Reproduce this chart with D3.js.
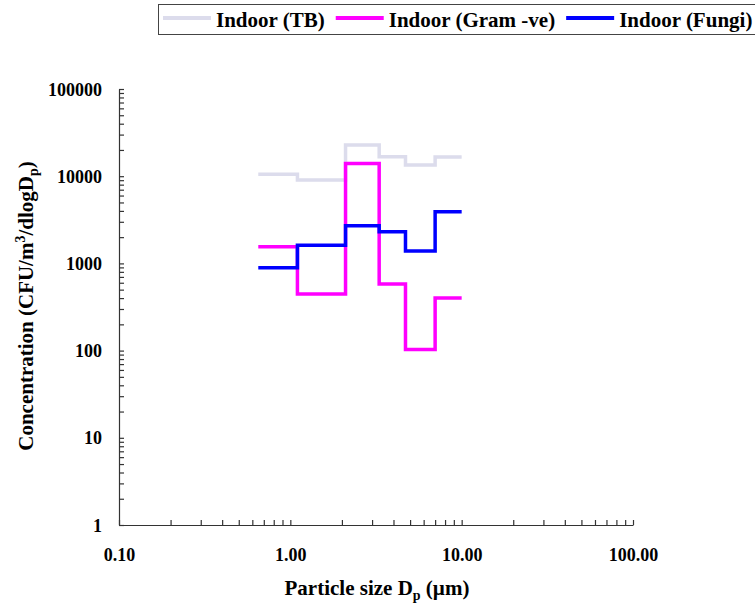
<!DOCTYPE html>
<html lang="en">
<head>
    <meta charset="UTF-8">
    <title>Particle size distribution</title>
    <script src="https://d3js.org/d3.v7.min.js"></script>
    <style>
        body {
            margin: 0;
            padding: 0;
            background: white;
        }
        svg {
            display: block;
        }
        svg text {
            font-family: "Liberation Serif", "Times New Roman", Times, "DejaVu Serif", serif;
            font-weight: bold;
        }
    </style>
</head>
<body>
    <svg id="chart" width="755" height="604"></svg>

    <script>
        // Andersen stage cut sizes (µm) - bin edges
        let binEdges = [0.65, 1.1, 2.1, 3.3, 4.7, 7.0, 10];

        let tbValues = [10500, 9050, 22800, 16700, 13400, 16600];
        let gramValues = [1550, 446, 14000, 580, 103, 400];
        let fungiValues = [890, 1620, 2710, 2310, 1390, 3920];

        let seriesNames = ["Indoor (TB)", "Indoor (Gram -ve)", "Indoor (Fungi)"];
        let seriesColors = ["#dcdcec", "#ff00ff", "#0000ff"];

        let xTickLabels = ["0.10", "1.00", "10.00", "100.00"];
        let yTickLabels = ["1", "10", "100", "1000", "10000", "100000"];

        let svg = d3.select("#chart");
        let axisColor = "#333";

        let x = d3.scaleLog().domain([0.1, 100]).range([119, 633]);
        let y = d3.scaleLog().domain([1, 100000]).range([525, 89]);

        // every tick 1..9 in each decade
        function logTicks(lo, hi) {
            let t = [];
            for (let p = Math.log10(lo); p < Math.log10(hi); p++) {
                for (let k = 1; k < 10; k++) t.push(k * Math.pow(10, p));
            }
            t.push(hi);
            return t;
        }
        function isMajor(v) {
            let l = Math.log10(v);
            return Math.abs(l - Math.round(l)) < 1e-9;
        }

        let xAxis = d3.axisBottom(x)
            .tickValues(logTicks(0.1, 100))
            .tickSizeInner(-5)
            .tickSizeOuter(0)
            .tickPadding(23)
            .tickFormat(v => isMajor(v) ? xTickLabels[Math.round(Math.log10(v)) + 1] : "");

        let yAxis = d3.axisLeft(y)
            .tickValues(logTicks(1, 100000))
            .tickSizeInner(-5)
            .tickSizeOuter(0)
            .tickPadding(17)
            .tickFormat(v => isMajor(v) ? yTickLabels[Math.round(Math.log10(v))] : "");

        let gx = svg.append("g")
            .attr("transform", "translate(0,525)")
            .call(xAxis);
        let gy = svg.append("g")
            .attr("transform", "translate(119,0)")
            .call(yAxis);

        [gx, gy].forEach(g => {
            g.attr("font-family", null).attr("font-size", null);
            g.selectAll("path, line").attr("stroke", axisColor).attr("stroke-width", 1.2);
            g.selectAll("text").attr("fill", "black").style("font-size", "18px");
        });
        gy.selectAll("text").attr("dy", "0.34em");

        // step lines
        function stepPoints(values) {
            return binEdges.map((e, i) => [e, values[Math.min(i, values.length - 1)]]);
        }
        let line = d3.line()
            .x(d => x(d[0]))
            .y(d => y(d[1]))
            .curve(d3.curveStepAfter);

        [tbValues, gramValues, fungiValues].forEach((vals, i) => {
            svg.append("path")
                .attr("d", line(stepPoints(vals)))
                .attr("fill", "none")
                .attr("stroke", seriesColors[i])
                .attr("stroke-width", 3.5);
        });

        // axis titles
        let xTitle = svg.append("text")
            .attr("x", 377)
            .attr("y", 595)
            .attr("text-anchor", "middle")
            .style("font-size", "21px");
        xTitle.append("tspan").text("Particle size D");
        xTitle.append("tspan").attr("dy", 5).style("font-size", "14px").text("p");
        xTitle.append("tspan").attr("dy", -5).text(" (µm)");

        let yTitle = svg.append("text")
            .attr("transform", "translate(33,306) rotate(-90)")
            .attr("text-anchor", "middle")
            .style("font-size", "21px");
        yTitle.append("tspan").text("Concentration (CFU/m");
        yTitle.append("tspan").attr("dy", -8).style("font-size", "14px").text("3");
        yTitle.append("tspan").attr("dy", 8).text("/dlogD");
        yTitle.append("tspan").attr("dy", 5).style("font-size", "14px").text("p");
        yTitle.append("tspan").attr("dy", -5).text(")");

        // legend
        let legend = svg.append("g");
        legend.append("rect")
            .attr("x", 158.5)
            .attr("y", 4.5)
            .attr("width", 610)
            .attr("height", 30)
            .attr("fill", "white")
            .attr("stroke", "#444")
            .attr("stroke-width", 1);

        let cursor = 163;
        seriesNames.forEach((name, i) => {
            legend.append("line")
                .attr("x1", cursor)
                .attr("x2", cursor + 48)
                .attr("y1", 18)
                .attr("y2", 18)
                .attr("stroke", seriesColors[i])
                .attr("stroke-width", 4);
            let t = legend.append("text")
                .attr("x", cursor + 53)
                .attr("y", 27)
                .style("font-size", "21px")
                .text(name);
            cursor += 53 + t.node().getComputedTextLength() + 11;
        });
    </script>
</body>
</html>
